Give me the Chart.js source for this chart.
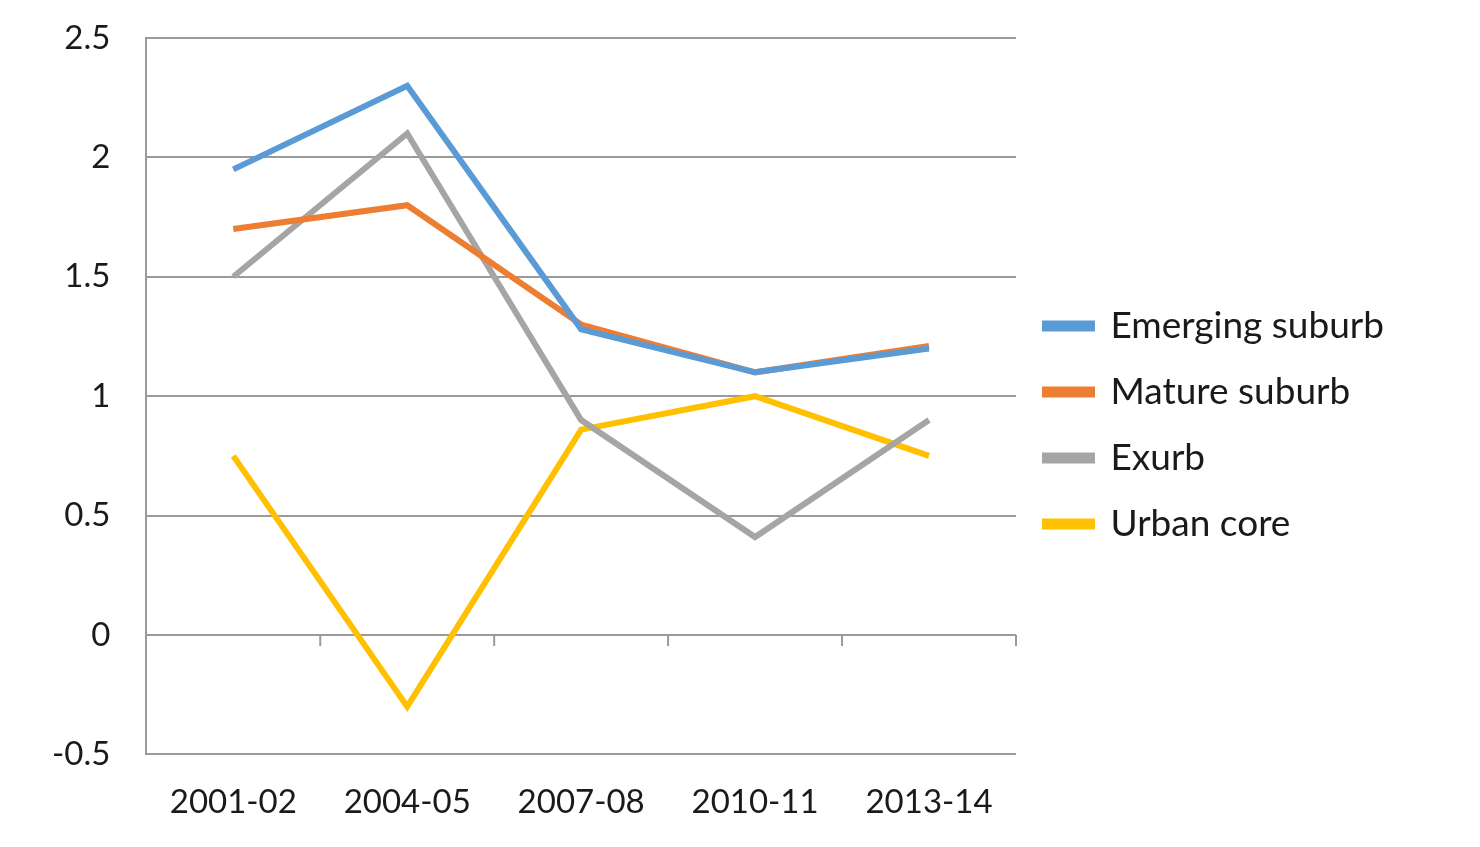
<!DOCTYPE html>
<html>
<head>
<meta charset="utf-8">
<script src="https://cdn.jsdelivr.net/npm/chart.js@4.4.0/dist/chart.umd.min.js"></script>
<style>
  html, body { margin: 0; padding: 0; background: #fff; }
  #wrap { width: 1480px; height: 847px; }
</style>
</head>
<body>
<div id="wrap"><canvas id="lineChart"></canvas></div>
<script>
const periods = ["2001-02", "2004-05", "2007-08", "2010-11", "2013-14"];
const emergingSuburb = [1.95, 2.3, 1.28, 1.1, 1.2];
const matureSuburb = [1.7, 1.8, 1.3, 1.1, 1.21];
const exurb = [1.5, 2.1, 0.9, 0.41, 0.9];
const urbanCore = [0.75, -0.3, 0.86, 1.0, 0.75];

const seriesColors = {
  emerging: "#5b9bd5",
  mature: "#ed7d31",
  exurb: "#a5a5a5",
  urban: "#ffc000",
};

const gridColor = "#9a9a9a";
const fontFamily = "Lato, 'Open Sans', sans-serif";

const makeSeries = (label, data, color) => ({
  label: label,
  data: data,
  borderColor: color,
  backgroundColor: color,
  borderWidth: 6,
  pointRadius: 0,
  tension: 0,
});

// small tick marks on the zero line between categories, like the Excel axis
const zeroAxisTicks = {
  id: "zeroAxisTicks",
  afterDatasetsDraw(chart) {
    const { ctx, scales } = chart;
    const x = scales.x;
    const y0 = scales.y.getPixelForValue(0);
    const step = x.getPixelForValue(1) - x.getPixelForValue(0);
    ctx.save();
    ctx.strokeStyle = gridColor;
    ctx.lineWidth = 2;
    for (let i = 0; i < periods.length; i++) {
      const px = x.getPixelForValue(i) + step / 2;
      ctx.beginPath();
      ctx.moveTo(px, y0);
      ctx.lineTo(px, y0 + 11);
      ctx.stroke();
    }
    ctx.restore();
  },
};

const drawChart = () => {
  const ctx = document.getElementById("lineChart");
  new Chart(ctx, {
    type: "line",
    data: {
      labels: periods,
      datasets: [
        makeSeries("Emerging suburb", emergingSuburb, seriesColors.emerging),
        makeSeries("Mature suburb", matureSuburb, seriesColors.mature),
        makeSeries("Exurb", exurb, seriesColors.exurb),
        makeSeries("Urban core", urbanCore, seriesColors.urban),
      ],
    },
    options: {
      responsive: true,
      maintainAspectRatio: false,
      animation: false,
      layout: {
        padding: { top: 0, right: 86, bottom: -3, left: 16 },
      },
      plugins: {
        legend: {
          position: "right",
          align: "center",
          maxWidth: 420,
          labels: {
            boxWidth: 47,
            boxHeight: 5,
            padding: 29,
            color: "#1a1a1a",
            font: { family: fontFamily, size: 37 },
          },
        },
        tooltip: { enabled: false },
      },
      scales: {
        x: {
          type: "category",
          offset: true,
          grid: { display: false, drawTicks: false },
          border: { display: false },
          ticks: {
            color: "#1a1a1a",
            padding: 28,
            maxRotation: 0,
            font: { family: fontFamily, size: 33 },
          },
        },
        y: {
          min: -0.5,
          max: 2.5,
          // the tick padding is meant for the gap to the left only
          afterFit: (scale) => {
            scale.paddingTop = 38;
          },
          ticks: {
            stepSize: 0.5,
            padding: 36,
            color: "#1a1a1a",
            font: { family: fontFamily, size: 33 },
            callback: (value) => `${value}`,
          },
          grid: {
            color: gridColor,
            lineWidth: 2,
            drawTicks: false,
          },
          border: { display: true, color: gridColor, width: 2 },
        },
      },
    },
    plugins: [zeroAxisTicks],
  });
};

Promise.all([
  document.fonts.load("37px Lato"),
  document.fonts.load("33px Lato"),
]).then(drawChart, drawChart);
</script>
</body>
</html>
